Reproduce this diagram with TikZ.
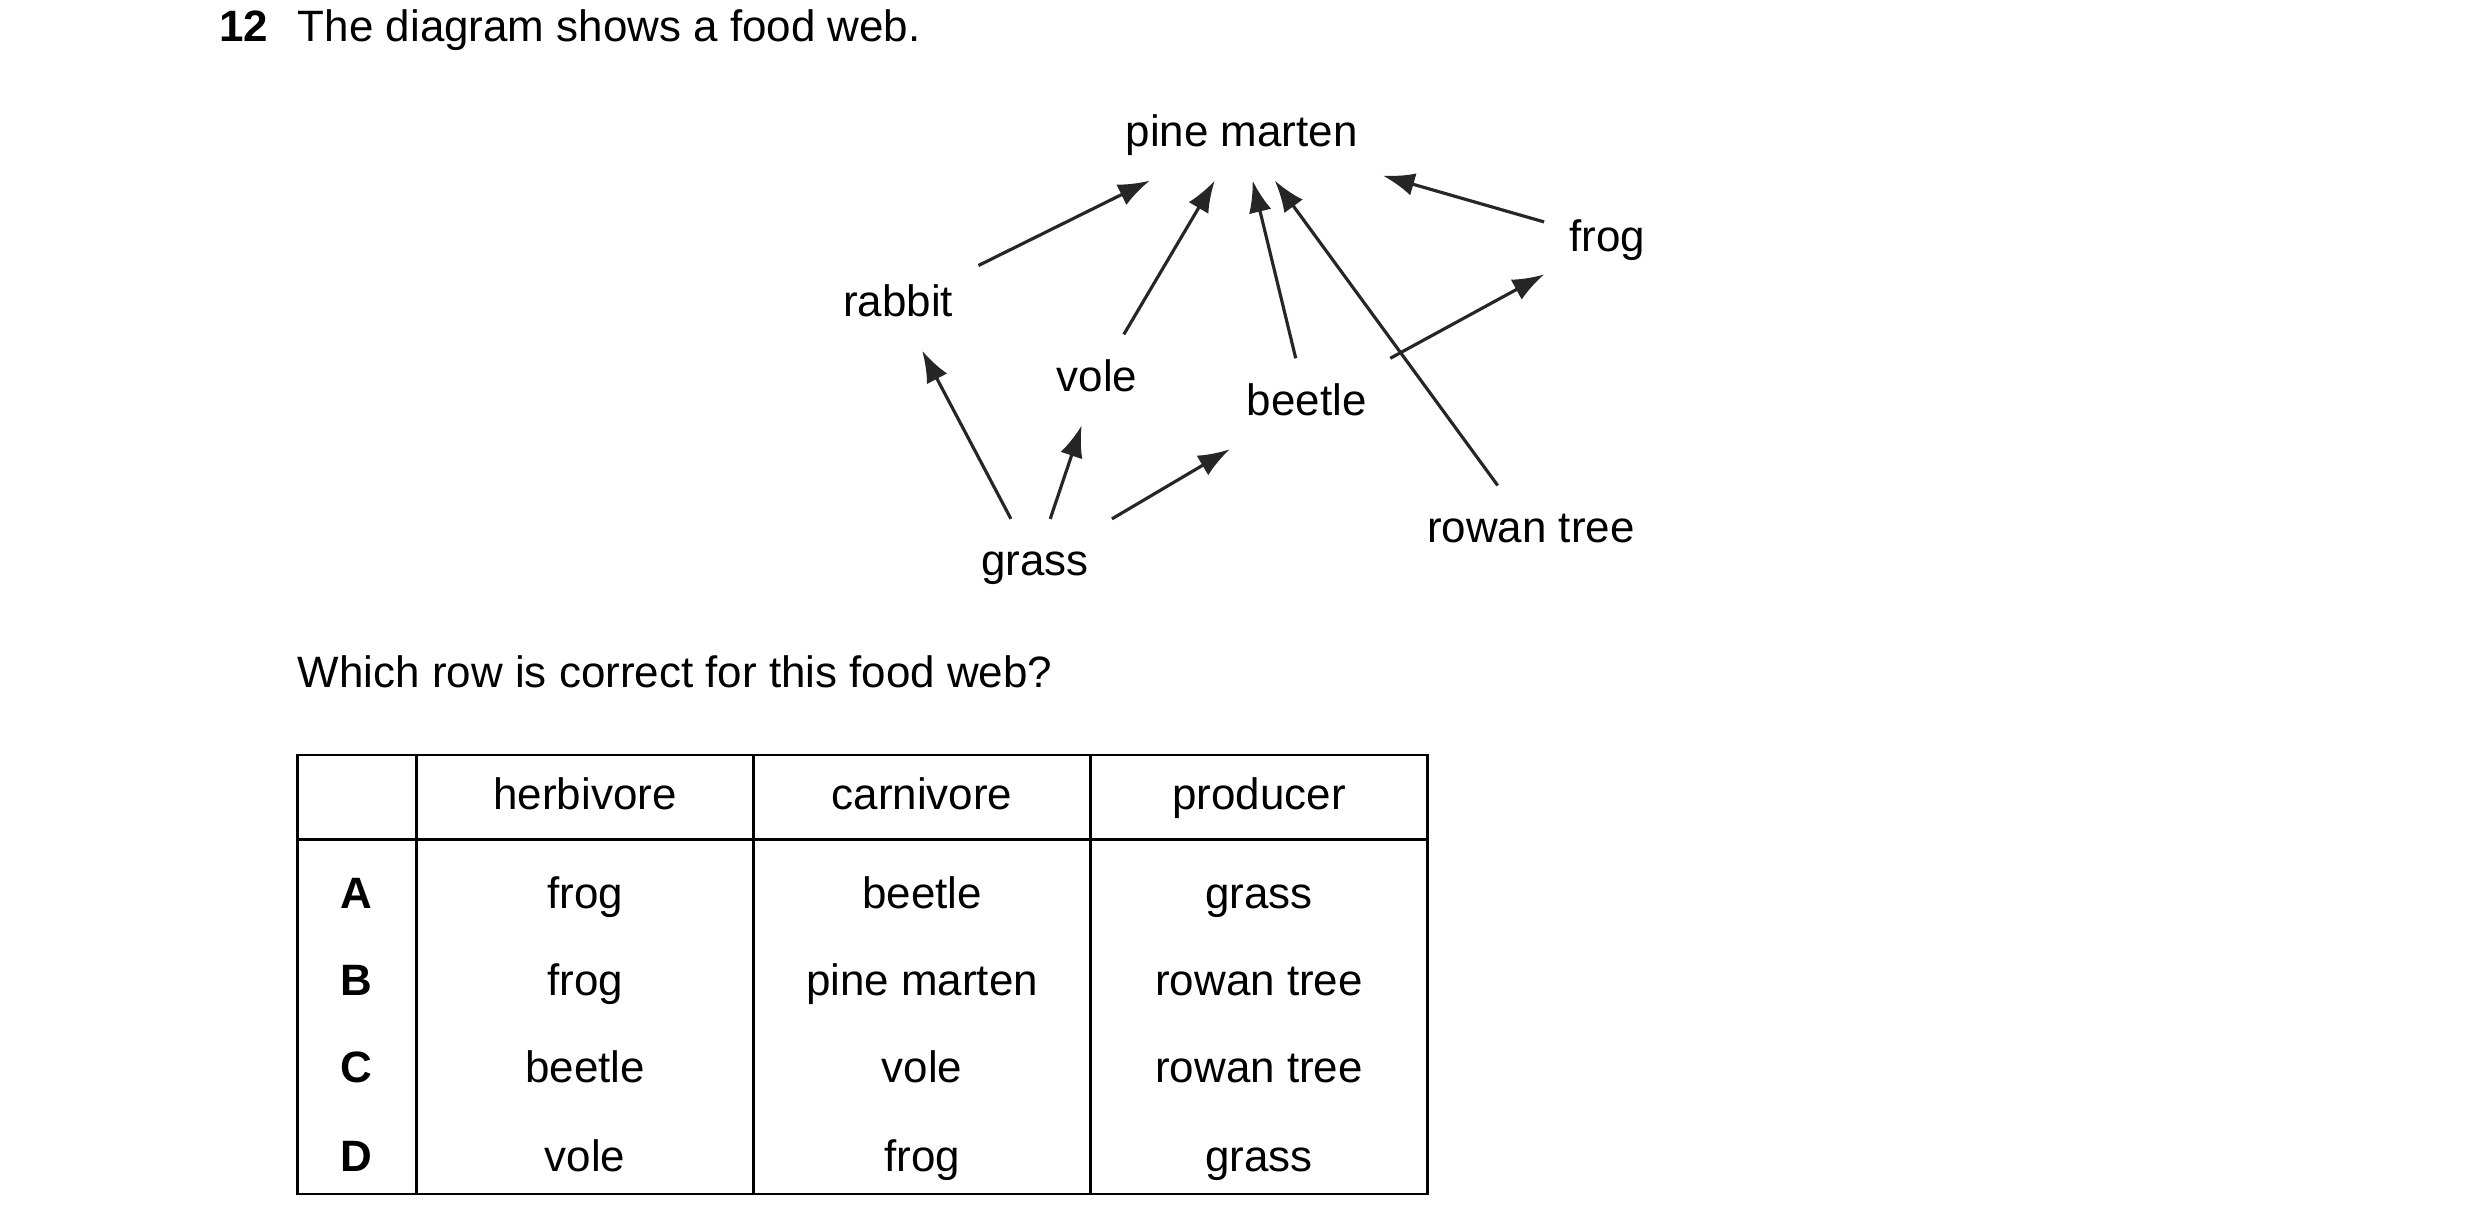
\documentclass[tikz,border=0pt]{standalone}
\usepackage{fontspec}
\setmainfont{Liberation Sans}
\usetikzlibrary{arrows.meta,positioning}

\begin{document}
\begin{tikzpicture}[x=0.0159cm,y=-0.0159cm,
	every node/.style = {font=\fontsize{12.5}{15}\selectfont, text height=9pt, text depth=2.5pt},
	org/.style = {inner sep=7pt},
	feeds/.style = {draw=black!85, line width=0.9pt, -{Latex[length=9pt,width=6.5pt]}},
	cell/.style = {inner sep=0pt}]
\useasboundingbox (0,0) rectangle (1560,773);
% question
\node[anchor=west, font=\fontsize{12.5}{15}\selectfont\bfseries] (num) at (130,19) {12};
\node[anchor=west, inner sep=0pt] (q) at (187,19) {The diagram shows a food web.};
% food web
\node[org] (pm) at (781,85) {pine marten};
\node[org] (frog) at (1011,151) {frog};
\node[org] (rabbit) at (565,192) {rabbit};
\node[org] (vole) at (690,239) {vole};
\node[org] (beetle) at (822,254) {beetle};
\node[org] (rowan) at (963,334) {rowan tree};
\node[org] (grass) at (651,355) {grass};
	\draw[feeds] (rabbit) -- (pm);
	\draw[feeds] (vole) -- (pm);
	\draw[feeds] (beetle) -- (pm);
	\draw[feeds] (rowan) -- (pm);
	\draw[feeds] (frog) -- (pm);
	\draw[feeds] (grass) -- (rabbit);
	\draw[feeds] (grass) -- (vole);
	\draw[feeds] (grass) -- (beetle);
	\draw[feeds] (beetle) -- (frog);
\node[anchor=west, inner sep=0pt] (which) at (187,425) {Which row is correct for this food web?};
% table
\draw[line width=0.7pt] (187,475) rectangle (898,751);
\draw[line width=0.7pt] (187,528) -- (898,528);
\foreach \x in {262,474,686}
	\draw[line width=0.7pt] (\x,475) -- (\x,751);
\node[cell] (h1) at (368,502) {herbivore};
\node[cell] (h2) at (580,502) {carnivore};
\node[cell] (h3) at (792,502) {producer};
\foreach \r/\y/\a/\b/\c in {A/564/frog/beetle/grass, B/619/frog/pine marten/rowan tree,
	C/674/beetle/vole/rowan tree, D/730/vole/frog/grass} {
	\node[cell, font=\fontsize{12.5}{15}\selectfont\bfseries] (row\r) at (224,\y) {\r};
	\node[cell] at (368,\y) {\a};
	\node[cell] at (580,\y) {\b};
	\node[cell] at (792,\y) {\c};
}
\end{tikzpicture}
\end{document}
